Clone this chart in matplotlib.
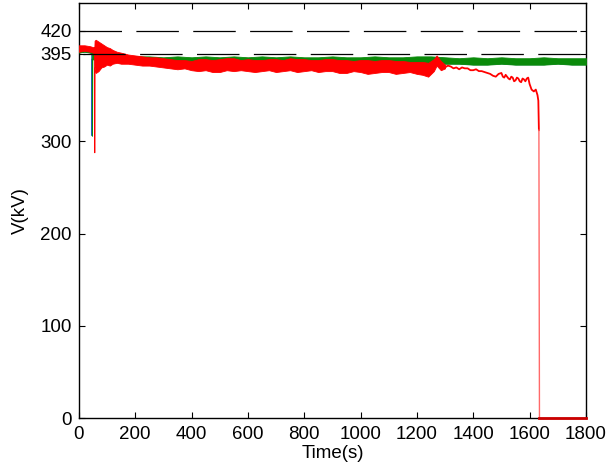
import matplotlib
matplotlib.use("Agg")
import matplotlib.pyplot as plt
import numpy as np

plt.rcParams['font.family'] = ['Liberation Sans', 'DejaVu Sans']

# ---- data ----
green_t  = [0, 20, 40, 46, 47, 48, 60, 80, 100, 130, 160, 200, 250, 300, 350, 400, 450, 500, 550,
            600, 650, 700, 750, 800, 850, 900, 950, 1000, 1050, 1100, 1150, 1200, 1250, 1300,
            1350, 1400, 1450, 1500, 1550, 1600, 1650, 1700, 1750, 1800]
green_lo = [396, 397, 396, 395, 306, 389, 388, 387, 386, 386, 385, 385, 385, 385, 386, 386, 386, 386, 385,
            386, 386, 385, 386, 386, 385, 386, 385, 385, 386, 385, 385, 384, 385, 384,
            384, 383, 383, 384, 383, 383, 383, 384, 383, 383]
green_hi = [402, 402, 401, 400, 399, 401, 399, 397, 395, 394, 393, 392, 392, 391, 392, 391, 392, 391, 392,
            391, 392, 391, 392, 391, 391, 392, 391, 391, 392, 391, 391, 392, 392, 391,
            390, 391, 390, 391, 390, 390, 391, 390, 390, 390]

red_t  = [0, 20, 40, 50, 54, 55, 56, 60, 70, 80, 90, 100, 110, 120, 135, 150, 175, 200, 225, 250,
          275, 300, 325, 350, 375, 400, 425, 450, 475, 500, 525, 550, 575, 600, 625, 650, 675,
          700, 725, 750, 775, 800, 825, 850, 875, 900, 925, 950, 975, 1000, 1025, 1050, 1075,
          1100, 1125, 1150, 1175, 1200, 1220, 1240, 1260, 1270, 1285, 1300]
red_lo = [397, 398, 397, 396, 395, 288, 380, 374, 376, 380, 381, 383, 382, 384, 385, 384, 384, 383, 382, 382,
          381, 380, 379, 378, 379, 377, 376, 377, 375, 375, 377, 376, 377, 376, 375, 376, 377,
          375, 376, 377, 375, 376, 377, 375, 376, 376, 374, 374, 376, 375, 373, 374, 375,
          375, 373, 374, 375, 373, 372, 370, 376, 382, 377, 379]
red_hi = [404, 404, 403, 402, 402, 400, 409, 410, 408, 406, 404, 402, 401, 399, 397, 396, 394, 393, 392, 391,
          391, 390, 389, 388, 388, 387, 389, 389, 388, 389, 390, 390, 388, 389, 388, 388, 389,
          389, 388, 390, 389, 389, 388, 388, 389, 389, 388, 388, 387, 388, 388, 387, 388,
          388, 387, 387, 386, 386, 386, 385, 389, 393, 387, 383]

red_tail_t = [1300, 1310, 1320, 1330, 1340, 1350, 1360, 1370, 1380, 1390, 1400, 1410, 1420, 1430,
              1440, 1450, 1460, 1470, 1480, 1490, 1500, 1505, 1510, 1515, 1520, 1525, 1530, 1535,
              1540, 1545, 1550, 1555, 1560, 1565, 1570, 1575, 1580, 1585, 1590, 1595, 1600, 1607,
              1615, 1622, 1628, 1631, 1633, 1635, 1800]
red_tail_v = [380, 382, 381, 379, 380, 378, 380, 379, 379, 377, 377, 378, 376, 376,
              375, 374, 373, 371, 370, 373, 374, 370, 369, 372, 370, 368, 367, 370,
              369, 365, 366, 369, 368, 365, 364, 368, 367, 365, 368, 369, 362, 356,
              354, 356, 350, 344, 312, 0, 0]

ref_levels = [420, 395]
xticks = [0, 200, 400, 600, 800, 1000, 1200, 1400, 1600, 1800]
yticks = [0, 100, 200, 300, 395, 420]

# ---- figure ----
fig = plt.figure(figsize=(6.11, 4.73), dpi=100)
ax = fig.add_axes([0.129, 0.116, 0.830, 0.878])

ax.plot(green_t, green_lo, color='#1f5fbf', lw=0.8, zorder=2)
ax.fill_between(green_t, green_lo, green_hi, color='#0a8a0a', lw=0.6, edgecolor='#0a8a0a', zorder=3)
ax.fill_between(red_t, red_lo, red_hi, color='#ff0000', lw=0.6, edgecolor='#ff0000', zorder=4)
k = red_tail_t.index(1633)
ax.plot(red_tail_t[:k + 1], red_tail_v[:k + 1], color='#ff0000', lw=1.3, zorder=4)
ax.plot(red_tail_t[k:k + 2], red_tail_v[k:k + 2], color='#ff6a6a', lw=1.0, zorder=4)
ax.plot(red_tail_t[k + 1:], red_tail_v[k + 1:], color='#cc0000', lw=2.0, zorder=6, clip_on=False)

ax.axhline(ref_levels[0], color='black', lw=0.9, linestyle=(0, (34, 11.5)), zorder=5)
ax.axhline(ref_levels[1], color='black', lw=0.9, linestyle=(-3, (34, 11.5)), zorder=5)

ax.set_xlim(0, 1800)
ax.set_ylim(0, 450)
ax.set_xticks(xticks)
ax.set_yticks(yticks)
ax.tick_params(direction='in', top=True, right=True, length=4, width=0.8,
               labelsize=13.5)
ax.tick_params(axis='x', pad=6)
ax.tick_params(axis='y', pad=5)
for s in ax.spines.values():
    s.set_linewidth(1.0)
ax.set_xlabel('Time(s)', fontsize=13.5, labelpad=1)
ax.set_ylabel('V(kV)', fontsize=13.5, labelpad=8)

fig.savefig('out.png', dpi=100)
